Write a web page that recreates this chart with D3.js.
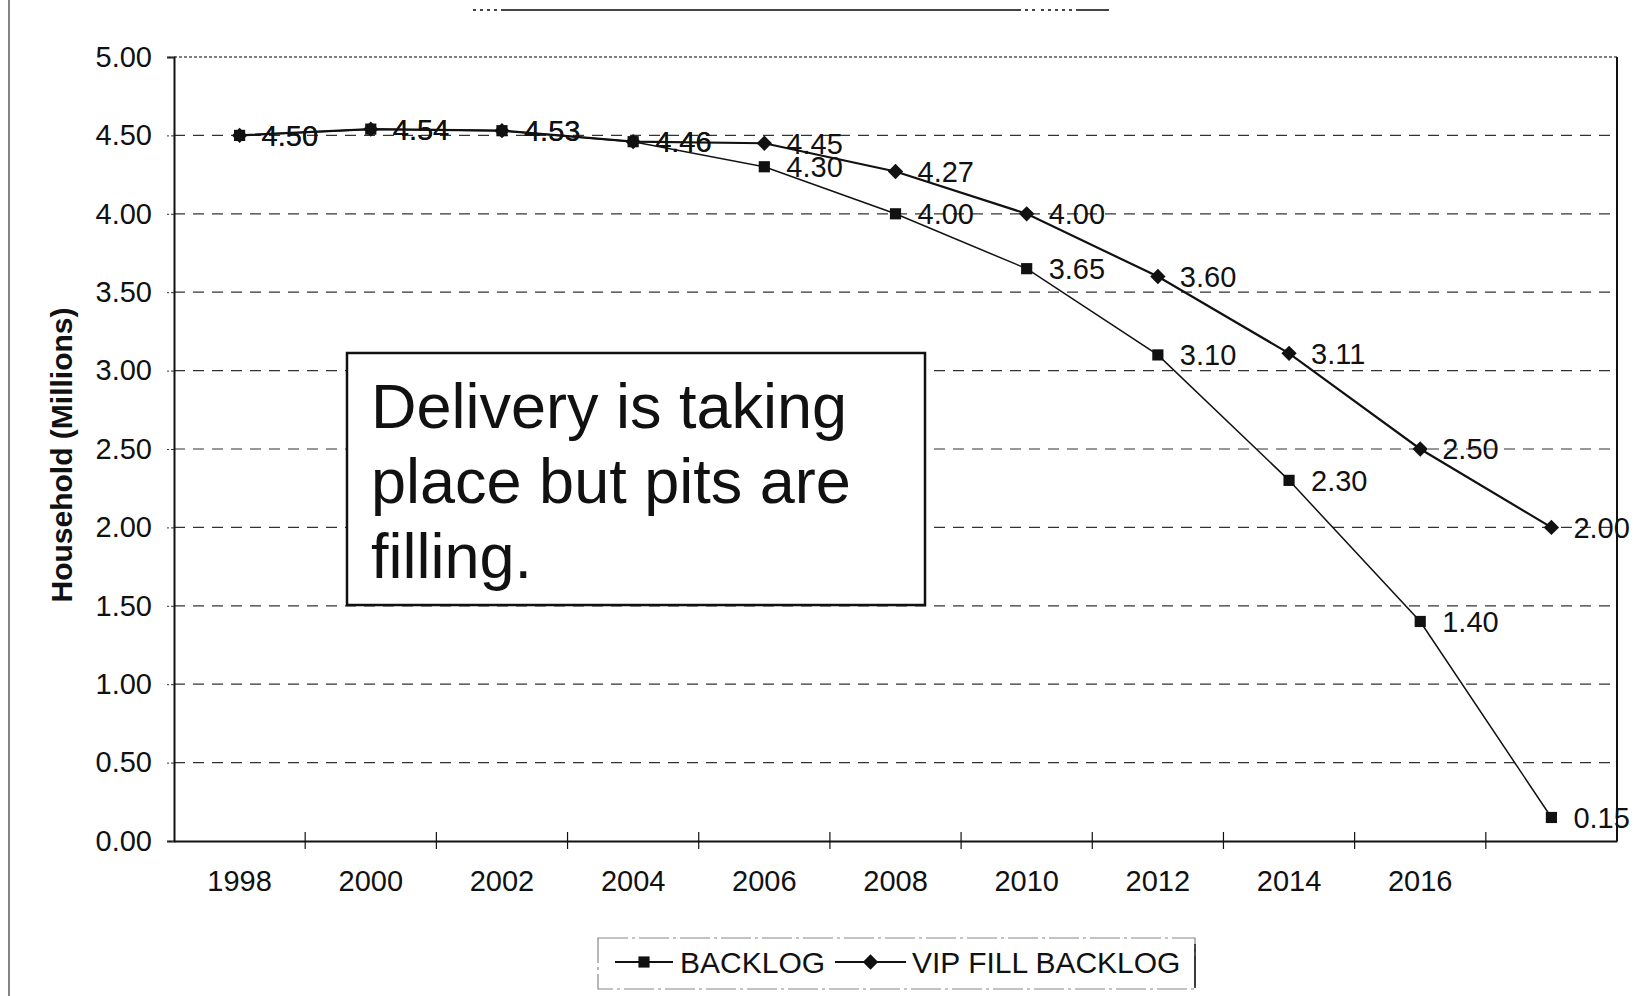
<!DOCTYPE html>
<html>
<head>
<meta charset="utf-8">
<script src="https://cdn.jsdelivr.net/npm/d3@7"></script>
<style>
    body { margin: 0; background: #fff; }
    svg { display: block; font-family: "Liberation Sans", Arial, sans-serif; }
</style>
</head>
<body>
<div id="chart"></div>
<script>
// values
const years = [1998, 2000, 2002, 2004, 2006, 2008, 2010, 2012, 2014, 2016, 2018];
const xLabels = ['1998', '2000', '2002', '2004', '2006', '2008', '2010', '2012', '2014', '2016', ''];
const backlog = [4.50, 4.54, 4.53, 4.46, 4.30, 4.00, 3.65, 3.10, 2.30, 1.40, 0.15];
const vipFill = [4.50, 4.54, 4.53, 4.46, 4.45, 4.27, 4.00, 3.60, 3.11, 2.50, 2.00];
const yTicks = [0, 0.5, 1, 1.5, 2, 2.5, 3, 3.5, 4, 4.5, 5];
const seriesNames = ['BACKLOG', 'VIP FILL BACKLOG'];
const yTitle = 'Household (Millions)';
const noteLines = ['Delivery is taking', 'place but pits are', 'filling.'];

const width = 1636, height = 996;
const plot = { left: 174, right: 1617, top: 57, bottom: 841 };

const svg = d3.select('#chart').append('svg')
    .attr('width', width)
    .attr('height', height);

svg.append('rect').attr('width', width).attr('height', height).attr('fill', '#fff');

// scales
const x = d3.scaleBand().domain(years).range([plot.left, plot.right]);
const y = d3.scaleLinear().domain([0, 5]).range([plot.bottom, plot.top]);
const cx = d => x(d) + x.bandwidth() / 2;

// outer chart frame remnants (left page edge and top edge)
svg.append('line')
    .attr('x1', 9).attr('x2', 9).attr('y1', 0).attr('y2', height)
    .attr('stroke', '#333').attr('stroke-width', 1.2);
svg.append('line')
    .attr('x1', 473).attr('x2', 1109).attr('y1', 10).attr('y2', 10)
    .attr('stroke', '#444').attr('stroke-width', 2)
    .attr('stroke-dasharray', '3,4,3,4,3,4,3,4,520,4,3,4,3,6,3,4');

// gridlines
svg.append('g')
    .selectAll('line')
    .data(yTicks.filter(d => d > 0 && d < 5))
    .join('line')
    .attr('x1', plot.left).attr('x2', plot.right)
    .attr('y1', d => y(d)).attr('y2', d => y(d))
    .attr('stroke', '#333')
    .attr('stroke-width', 1.2)
    .attr('stroke-dasharray', '11,8');

// plot border
svg.append('line')
    .attr('x1', plot.left).attr('x2', plot.right)
    .attr('y1', plot.top).attr('y2', plot.top)
    .attr('stroke', '#555').attr('stroke-width', 1.5)
    .attr('stroke-dasharray', '3,2');
svg.append('line')
    .attr('x1', plot.right).attr('x2', plot.right)
    .attr('y1', plot.top).attr('y2', plot.bottom)
    .attr('stroke', '#111').attr('stroke-width', 2);

// y axis
const yAxis = d3.axisLeft(y)
    .tickValues(yTicks)
    .tickSize(7)
    .tickPadding(15)
    .tickFormat(d3.format('.2f'));

const gy = svg.append('g')
    .attr('transform', `translate(${plot.left},0)`)
    .call(yAxis);
gy.select('.domain').attr('stroke', '#111').attr('stroke-width', 2);
gy.selectAll('.tick line').attr('stroke', '#333').attr('stroke-dasharray', '3,2');
gy.selectAll('text')
    .attr('font-size', 29)
    .attr('fill', '#111')
    .attr('font-family', '"Liberation Sans", Arial, sans-serif');

// x axis
const xAxis = d3.axisBottom(x)
    .tickSize(0)
    .tickPadding(29)
    .tickFormat((d, i) => xLabels[i]);

const gx = svg.append('g')
    .attr('transform', `translate(0,${plot.bottom})`)
    .call(xAxis);
gx.select('.domain').attr('stroke', '#111').attr('stroke-width', 2);
gx.selectAll('text')
    .attr('font-size', 29)
    .attr('fill', '#111')
    .attr('font-family', '"Liberation Sans", Arial, sans-serif');

// cross tick marks between categories
gx.append('g')
    .selectAll('line')
    .data(years.slice(1))
    .join('line')
    .attr('x1', d => x(d)).attr('x2', d => x(d))
    .attr('y1', -9).attr('y2', 8)
    .attr('stroke', '#111')
    .attr('stroke-width', 1.2);

// y axis title
svg.append('text')
    .attr('transform', `translate(72,455) rotate(-90)`)
    .attr('text-anchor', 'middle')
    .attr('font-size', 30)
    .attr('font-weight', 'bold')
    .attr('fill', '#111')
    .text(yTitle);

// series
const series = [
    { name: seriesNames[0], values: backlog, marker: 'square', width: 1.5 },
    { name: seriesNames[1], values: vipFill, marker: 'diamond', width: 2.2 }
];

const line = d3.line()
    .x((d, i) => cx(years[i]))
    .y(d => y(d));

const squareSym = d3.symbol().type(d3.symbolSquare).size(125);
const diamondSym = d3.symbol().type(d3.symbolDiamond2).size(150);

series.forEach(s => {
    const g = svg.append('g');
    g.append('path')
        .datum(s.values)
        .attr('d', line)
        .attr('fill', 'none')
        .attr('stroke', '#111')
        .attr('stroke-width', s.width);

    g.selectAll('path.marker')
        .data(s.values)
        .join('path')
        .attr('class', 'marker')
        .attr('transform', (d, i) => `translate(${cx(years[i])},${y(d)})`)
        .attr('d', s.marker === 'square' ? squareSym : diamondSym)
        .attr('fill', '#111');

    g.selectAll('text')
        .data(s.values)
        .join('text')
        .attr('x', (d, i) => cx(years[i]) + 22)
        .attr('y', d => y(d))
        .attr('dy', '0.36em')
        .attr('font-size', 29)
        .attr('fill', '#111')
        .text(d => d3.format('.2f')(d));
});

// annotation box
const note = svg.append('g');
note.append('rect')
    .attr('x', 347).attr('y', 353)
    .attr('width', 578).attr('height', 252)
    .attr('fill', '#fff')
    .attr('stroke', '#111')
    .attr('stroke-width', 2.5);
note.selectAll('text')
    .data(noteLines)
    .join('text')
    .attr('x', 371)
    .attr('y', (d, i) => 428 + i * 75)
    .attr('font-size', 63)
    .attr('fill', '#111')
    .text(d => d);

// legend
const legend = svg.append('g');
legend.append('rect')
    .attr('x', 598).attr('y', 938)
    .attr('width', 597).attr('height', 51)
    .attr('fill', 'none')
    .attr('stroke', '#888')
    .attr('stroke-width', 1.2)
    .attr('stroke-dasharray', '30,4,3,4');
legend.append('line')
    .attr('x1', 1195).attr('x2', 1195).attr('y1', 944).attr('y2', 988)
    .attr('stroke', '#111').attr('stroke-width', 1.5);

const legendItems = [
    { name: seriesNames[0], x0: 615, x1: 673, text: 680, sym: squareSym },
    { name: seriesNames[1], x0: 835, x1: 906, text: 912, sym: diamondSym }
];
const ly = 962;
legendItems.forEach(it => {
    legend.append('line')
        .attr('x1', it.x0).attr('x2', it.x1)
        .attr('y1', ly).attr('y2', ly)
        .attr('stroke', '#111').attr('stroke-width', 2);
    legend.append('path')
        .attr('transform', `translate(${(it.x0 + it.x1) / 2},${ly})`)
        .attr('d', it.sym)
        .attr('fill', '#111');
    legend.append('text')
        .attr('x', it.text)
        .attr('y', ly)
        .attr('dy', '0.36em')
        .attr('font-size', 30)
        .attr('fill', '#111')
        .text(it.name);
});
</script>
</body>
</html>
